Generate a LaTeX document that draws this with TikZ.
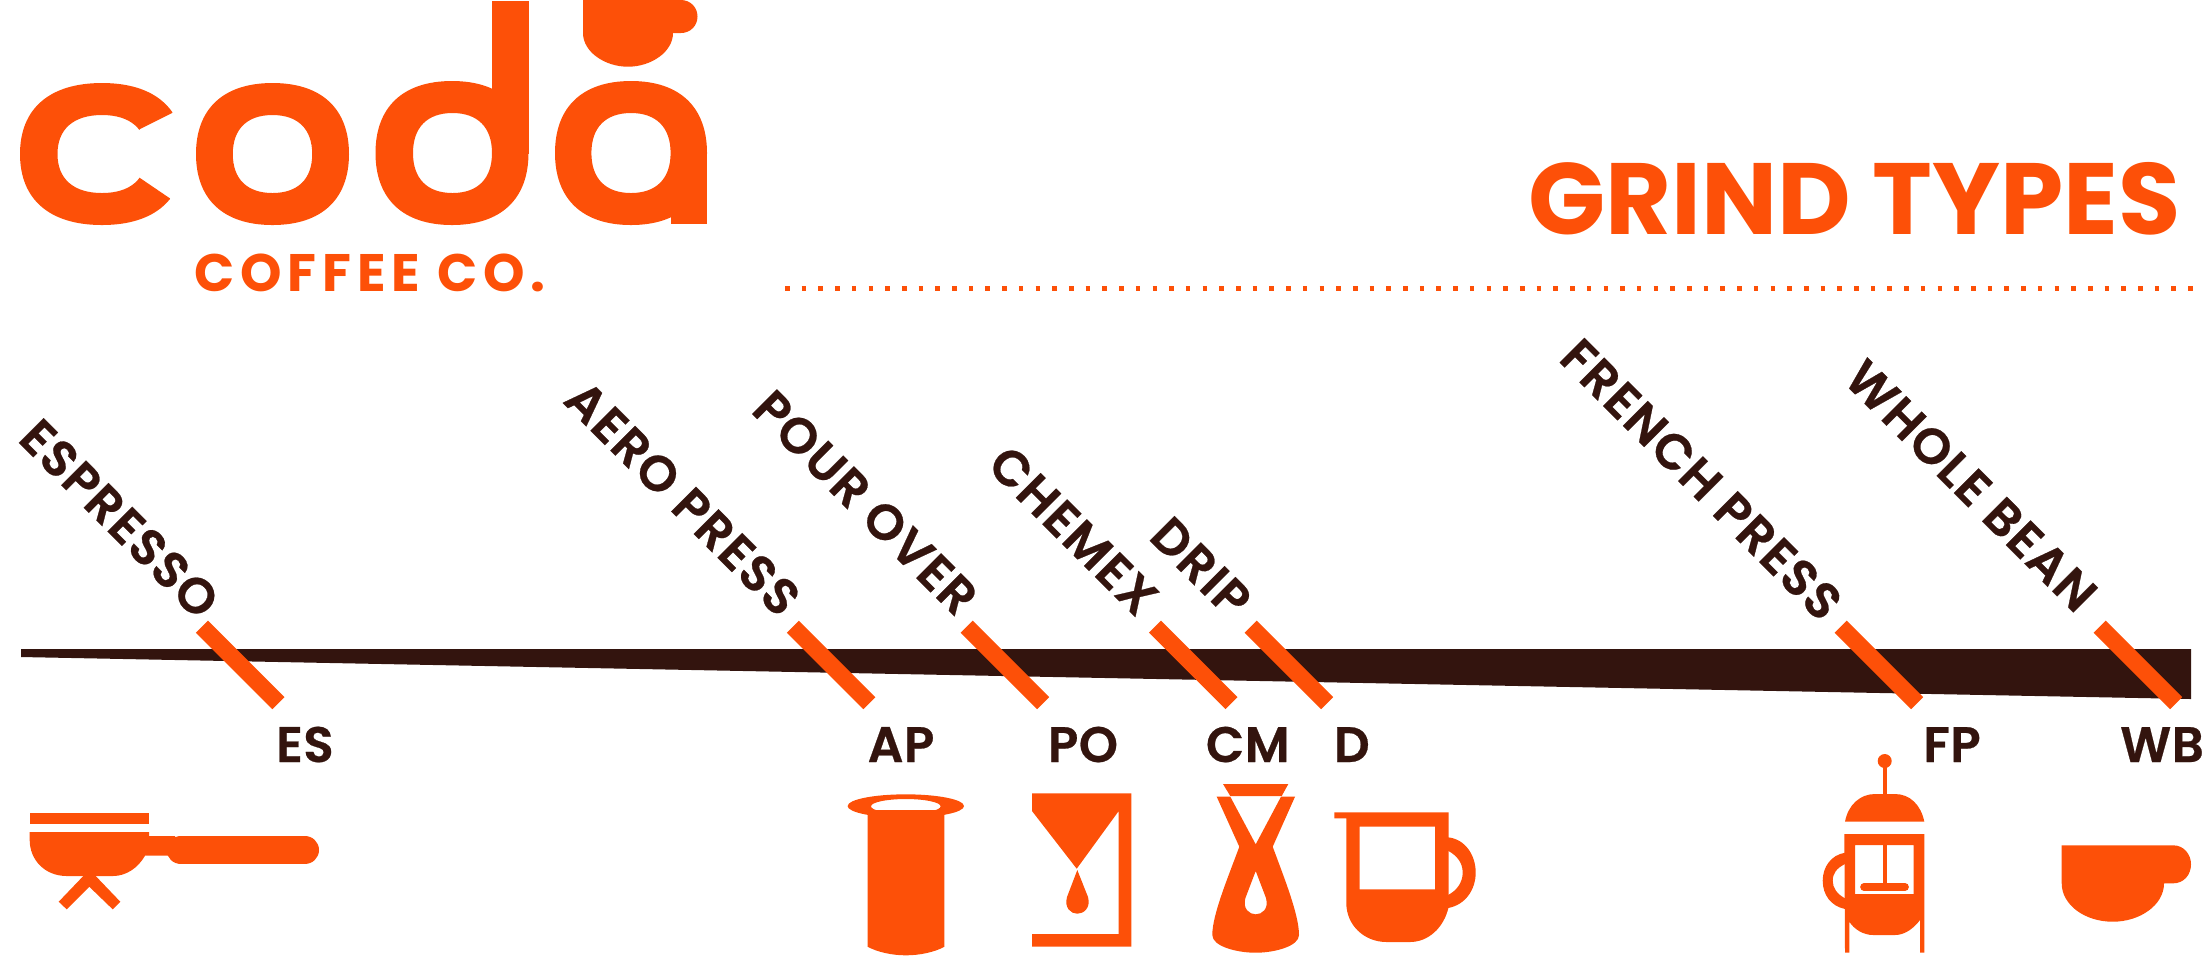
\documentclass[tikz,border=0pt]{standalone}
\usepackage{fontspec}
\setmainfont{Poppins}
\newfontfamily\coffeefont[LetterSpace=11]{Poppins}
\newfontfamily\methodfont[LetterSpace=3,FakeBold=0.5]{Poppins SemiBold}
\newfontfamily\codefont[LetterSpace=1,FakeBold=0.5]{Poppins SemiBold}
\definecolor{codaorange}{HTML}{FD5008}
\definecolor{codabrown}{HTML}{33140E}
\newcommand{\blob}[4]{({#1-#3},#2) .. controls ({#1-#3},{#2-.64*#4}) and ({#1-.64*#3},{#2-#4}) .. (#1,{#2-#4}) .. controls ({#1+.64*#3},{#2-#4}) and ({#1+#3},{#2-.64*#4}) .. ({#1+#3},#2) .. controls ({#1+#3},{#2+.64*#4}) and ({#1+.64*#3},{#2+#4}) .. (#1,{#2+#4}) .. controls ({#1-.64*#3},{#2+#4}) and ({#1-#3},{#2+.64*#4}) .. cycle}
\tikzset{
  icon/.style={fill=codaorange,draw=none},
  hole/.style={fill=codaorange,draw=none,even odd rule},
  tickbar/.style={draw=codaorange,line width=4.84pt},
  method/.style={text=codabrown,font=\fontsize{14.2}{15}\selectfont\methodfont,rotate=-45,inner sep=0pt},
  code/.style={text=codabrown,font=\fontsize{14.2}{15}\selectfont\codefont,anchor=base,inner sep=0pt},
}
\begin{document}
\begin{tikzpicture}[x=0.01cm,y=-0.01cm]
\useasboundingbox (0,0) rectangle (2203,956);

%logo
\begin{scope}
\clip (10,70) -- (190,70) -- (190,104) -- (140,129) -- (120,154) -- (140,178) -- (190,212) -- (190,240) -- (10,240) -- cycle;
\fill[hole] \blob{102}{154}{82}{71} \blob{102}{154}{44.5}{39};
\end{scope}
\fill[hole] \blob{272.5}{154}{76.5}{71} \blob{272.5}{154}{39.7}{39};
\fill[hole] \blob{452}{153}{76.5}{72} \blob{452.5}{153}{39.5}{40};
\fill[icon] (492,1) rectangle (528.5,154);
\fill[hole] \blob{631}{153}{76}{72} \blob{631}{153}{39.6}{40};
\fill[icon] (670.6,153) rectangle (707,224);
\fill[icon] (583,0) -- (583,33) .. controls (583,52) and (605,66.7) .. (628,66.7) .. controls (651,66.7) and (673,52) .. (673,33) -- (681,33) .. controls (690,33) and (697.5,26) .. (697.5,16.5) .. controls (697.5,7) and (690,0) .. (681,0) -- cycle;
\node (coffee) [text=codaorange,inner sep=0pt,anchor=base] at (370,291) {\fontsize{15}{16}\selectfont\coffeefont\bfseries COFFEE CO.};

%titolo
\node (grind) [text=codaorange,inner sep=0pt,anchor=base,font=\fontsize{28.8}{30}\selectfont\bfseries] at (1854.5,234) {GRIND TYPES};
\draw[codaorange,line width=1.3pt,dash pattern=on 1.3pt off 3.45pt] (785,288.3) -- (2192.5,288.3);

%barra
\fill[codabrown] (21,649) -- (2191,649) -- (2191,699) -- (21,657) -- cycle;

%tacche
\draw[tickbar] (202,626.7) -- ++(76.5,76.5);
\draw[tickbar] (792.8,626.7) -- ++(76.5,76.5);
\draw[tickbar] (966.7,626.7) -- ++(76.5,76.5);
\draw[tickbar] (1155,626.7) -- ++(76.5,76.5);
\draw[tickbar] (1250.7,626.7) -- ++(76.5,76.5);
\draw[tickbar] (1840.7,626.7) -- ++(76.5,76.5);
\draw[tickbar] (2099.7,626.7) -- ++(76.5,76.5);

%nomi
\node (espresso) [method] at (119.5,518.7) {ESPRESSO};
\node (aero) [method] at (682.8,498.2) {AERO PRESS};
\node (pour) [method] at (865.5,502.5) {POUR OVER};
\node (chemex) [method] at (1073.4,530.4) {CHEMEX};
\node (drip) [method] at (1200.9,567.2) {DRIP};
\node (french) [method] at (1701.4,479.4) {FRENCH PRESS};
\node (whole) [method] at (1971.1,485.6) {WHOLE BEAN};

%sigle
\node (es) [code] at (305,762) {ES};
\node (ap) [code] at (901,762) {AP};
\node (po) [code] at (1083,762) {PO};
\node (cm) [code] at (1247.8,762) {CM};
\node (d) [code] at (1351.8,762) {D};
\node (fp) [code] at (1952,762) {FP};
\node (wb) [code] at (2162,762) {WB};

%espresso
\fill[icon] (29.7,813.3) rectangle (149,824.3);
\fill[icon] (29.7,832) -- (149,832) -- (149,836) -- (175,836) -- (175,855.7) -- (145,855.7) .. controls (138,868) and (126,876) .. (113,876) -- (66.7,876) .. controls (45,876) and (29.7,860) .. (29.7,840) -- cycle;
\draw[codaorange,line width=8.14pt,line cap=round] (181,850) -- (304.7,850);
\fill[icon] (58.7,901.7) -- (83.3,876) -- (95.7,876) -- (120.3,901.7) -- (112.7,909.3) -- (89.3,886.7) -- (66.7,909.3) -- cycle;

%aero press
\fill[icon] (867.7,810) -- (944.3,810) -- (944.3,946.7) .. controls (935,952) and (920,955.3) .. (905.8,955.3) .. controls (892,955.3) and (877,952) .. (867.7,946.7) -- cycle;
\fill[hole] (905.8,806) ellipse (58.2 and 11.7) (905.8,806.3) ellipse (34.8 and 7.3);

%pour over
\fill[icon] (1032,793.3) -- (1131.3,793.3) -- (1131.3,946.7) -- (1032,946.7) -- (1032,934) -- (1118.7,934) -- (1118.7,811) -- (1076.7,868.7) -- (1032,811) -- cycle;
\fill[icon] (1077.3,870) -- (1067,897) .. controls (1064,908) and (1071,913.7) .. (1077.3,913.7) .. controls (1083.5,913.7) and (1091,908) .. (1088,897) -- cycle;

%chemex
\fill[icon] (1223,784) -- (1288.3,784) -- (1281.7,796) -- (1230.3,796) -- cycle;
\fill[hole] (1216.7,796.7) -- (1230.3,796.7) -- (1255.7,844.3) -- (1281,796.7) -- (1295,796.7) -- (1272.7,846.7) .. controls (1285,880) and (1299,915) .. (1299,935) .. controls (1299,946) and (1275,952.7) .. (1255.7,952.7) .. controls (1236,952.7) and (1212.3,946) .. (1212.3,935) .. controls (1212.3,915) and (1227,880) .. (1239.3,846.7) -- cycle
  (1255.7,871) -- (1245.4,898) .. controls (1242.4,909) and (1249.5,914.3) .. (1255.7,914.3) .. controls (1262,914.3) and (1269,909) .. (1266,898) -- cycle;

%drip
\fill[hole] (1334.3,812.3) -- (1448.7,812.3) -- (1448.7,906.7) .. controls (1444,928) and (1428,942) .. (1410,942) -- (1386.7,942) .. controls (1364,942) and (1346.3,925) .. (1346.3,903) -- (1346.3,818.3) -- (1334.3,818.3) -- cycle
  (1359.7,826.7) rectangle (1435,889.3);
\fill[icon] (1448,837.3) .. controls (1465,839) and (1475.7,855) .. (1475.7,872.5) .. controls (1475.7,890) and (1465,905) .. (1448,908) -- (1448,895) .. controls (1456,891) and (1462.7,883) .. (1462.7,872.5) .. controls (1462.7,862) and (1456,855) .. (1448,850.7) -- cycle;

%french press
\fill[icon] (1884.7,761) circle (7);
\fill[icon] (1882.7,761) rectangle (1886.7,796);
\fill[icon] (1845,821.7) .. controls (1848,805) and (1860,794) .. (1875,794) -- (1895,794) .. controls (1910,794) and (1921,805) .. (1924.3,821.7) -- cycle;
\fill[hole] (1844.3,834) -- (1924.3,834) -- (1924.3,952.7) -- (1920,952.7) -- (1920,920) .. controls (1914,928) and (1905,935) .. (1895,935) -- (1873.3,935) .. controls (1863,935) and (1854,929) .. (1849.3,921.7) -- (1849.3,952.7) -- (1845,952.7) -- cycle
  (1855,845) rectangle (1913.7,894);
\fill[icon] (1882.7,845) rectangle (1886.7,885);
\draw[codaorange,line width=2.2pt,line cap=round] (1864,887) -- (1905,887);
\fill[icon] (1845,852.7) .. controls (1831,855) and (1822.7,867) .. (1822.7,880.7) .. controls (1822.7,895) and (1831,906) .. (1845,909) -- (1845,898.3) .. controls (1837,894) and (1832.7,888) .. (1832.7,880.7) .. controls (1832.7,873) and (1837,868) .. (1845,864) -- cycle;

%whole bean
\fill[icon] (2061.7,845.3) -- (2173.3,845.3) .. controls (2183.5,845.3) and (2191,854) .. (2191,864.3) .. controls (2191,875) and (2183.5,883.3) .. (2173.3,883.3) -- (2164,883.3) .. controls (2164,905) and (2140,921.7) .. (2112.7,921.7) .. controls (2085,921.7) and (2061.7,905) .. (2061.7,883.3) -- cycle;

\end{tikzpicture}
\end{document}
